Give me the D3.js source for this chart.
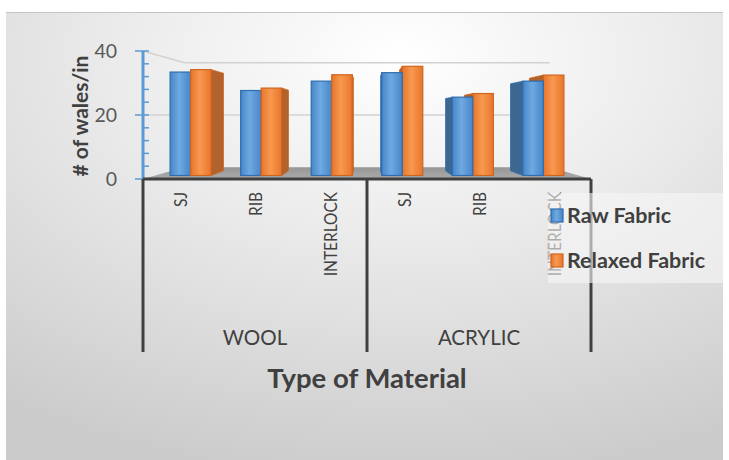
<!DOCTYPE html>
<html>
<head>
<meta charset="utf-8">
<script src="https://cdn.jsdelivr.net/npm/d3@7"></script>
<style>
  html, body { margin: 0; padding: 0; background: #ffffff; }
  svg { display: block; }
  text { font-family: Lato, "Open Sans", "Liberation Sans", sans-serif; }
</style>
</head>
<body>
<svg id="chart" width="729" height="460"></svg>
<script>
// Wales per inch by knit structure, grouped by fibre
const groups = ["WOOL", "ACRYLIC"];
const structures = ["SJ", "RIB", "INTERLOCK"];
const seriesNames = ["Raw Fabric", "Relaxed Fabric"];
const rawFabric = [34.2, 28.1, 31.2, 34.0, 25.9, 31.2];
const relaxedFabric = [35.0, 28.9, 33.3, 36.1, 27.1, 33.2];
const yTicks = [0, 20, 40];

const svg = d3.select("#chart");

// ---- background panel ----
const defs = svg.append("defs");
const bg = defs.append("radialGradient").attr("id", "bgGrad")
  .attr("cx", "0.55").attr("cy", "0.1").attr("r", "0.95");
bg.append("stop").attr("offset", "0").attr("stop-color", "#ffffff");
bg.append("stop").attr("offset", "0.4").attr("stop-color", "#ececec");
bg.append("stop").attr("offset", "1").attr("stop-color", "#cbcbcb");

svg.append("rect").attr("x", 6).attr("y", 12).attr("width", 717).attr("height", 448)
  .attr("fill", "url(#bgGrad)");
svg.append("line").attr("x1", 6).attr("x2", 723).attr("y1", 12.5).attr("y2", 12.5)
  .attr("stroke", "#c4c4c4").attr("stroke-width", 1);

// ---- scales ----
const cats = [];
groups.forEach(g => structures.forEach(s => cats.push(g + "|" + s)));

const x0 = d3.scaleBand().domain(cats).range([143, 591]).paddingInner(0).paddingOuter(0);
const x1 = d3.scaleBand().domain(seriesNames).range([0, x0.bandwidth()]).paddingInner(0).paddingOuter(0.72);
const y = d3.scaleLinear().domain([0, 40]).range([179, 51]);

// perspective: points recede toward a vanishing point as depth k grows
const vp = [367, 115];
const proj = (px, py, k) => [vp[0] + (px - vp[0]) * (1 - k), vp[1] + (py - vp[1]) * (1 - k)];
const wallK = 0.185, barFrontK = 0.055, barBackK = 0.13;
const poly = pts => pts.map(p => p.join(",")).join(" ");

// ---- floor ----
const xL = x0.range()[0], xR = x0.range()[1];
const floorPts = [proj(xL, y(0), 0), proj(xL, y(0), wallK), proj(xR, y(0), wallK), proj(xR, y(0), 0)];
const floorGrad = defs.append("linearGradient").attr("id", "floorGrad").attr("x1", 0).attr("y1", 0).attr("x2", 0).attr("y2", 1);
floorGrad.append("stop").attr("offset", 0).attr("stop-color", "#969696");
floorGrad.append("stop").attr("offset", 1).attr("stop-color", "#ababab");
svg.append("polygon").attr("points", poly(floorPts)).attr("fill", "url(#floorGrad)");

// ---- back-wall gridlines ----
yTicks.filter(t => t > 0).forEach(t => {
  const a = proj(xL, y(t), 0), b = proj(xL, y(t), wallK), c = proj(xR, y(t), wallK);
  svg.append("polyline").attr("points", poly([a, b, c]))
    .attr("fill", "none").attr("stroke", "#d2d2d2").attr("stroke-width", 1.5);
});

// ---- bars ----
const mkGrad = (id, edge, mid) => {
  const g = defs.append("linearGradient").attr("id", id).attr("x1", 0).attr("x2", 1).attr("y1", 0).attr("y2", 0);
  g.append("stop").attr("offset", 0).attr("stop-color", edge);
  g.append("stop").attr("offset", 0.45).attr("stop-color", mid);
  g.append("stop").attr("offset", 1).attr("stop-color", edge);
};
mkGrad("rawGrad", "#4786c6", "#6ea9e2");
mkGrad("relGrad", "#e8762c", "#f7994f");
const style = {
  "Raw Fabric": { front: "url(#rawGrad)", side: "#3b6791", stroke: "#2e6db0" },
  "Relaxed Fabric": { front: "url(#relGrad)", side: "#b2622c", stroke: "#cf6420" }
};

const bars = [];
cats.forEach((c, i) => {
  bars.push({ cat: c, s: "Raw Fabric", v: rawFabric[i] });
  bars.push({ cat: c, s: "Relaxed Fabric", v: relaxedFabric[i] });
});
bars.forEach(b => {
  b.xa = x0(b.cat) + x1(b.s);
  b.xb = b.xa + x1.bandwidth();
  b.dist = Math.abs((b.xa + b.xb) / 2 - vp[0]);
});
// draw bars farthest from the vanishing point first so nearer faces overlap them
bars.sort((a, b) => b.dist - a.dist);

bars.forEach(b => {
  const st = style[b.s];
  const top = y(b.v), bot = y(0);
  // the side facing the vanishing point is the visible one
  const sx = ((b.xa + b.xb) / 2 < vp[0]) ? b.xb : b.xa;
  const side = [proj(sx, top, barFrontK), proj(sx, top, barBackK), proj(sx, bot, barBackK), proj(sx, bot, barFrontK)];
  svg.append("polygon").attr("points", poly(side)).attr("fill", st.side)
    .attr("stroke", st.stroke).attr("stroke-width", 0.8);
  const f1 = proj(b.xa, top, barFrontK), f2 = proj(b.xb, bot, barFrontK);
  svg.append("rect").attr("x", f1[0]).attr("y", f1[1])
    .attr("width", f2[0] - f1[0]).attr("height", f2[1] - f1[1])
    .attr("fill", st.front).attr("stroke", st.stroke).attr("stroke-width", 1.2);
});

// ---- value axis ----
const axisG = svg.append("g");
axisG.append("line").attr("x1", xL).attr("x2", xL).attr("y1", y(40)).attr("y2", y(0))
  .attr("stroke", "#5b9bd5").attr("stroke-width", 3);
d3.range(0, 41, 4).forEach(t => {
  const major = yTicks.includes(t);
  axisG.append("line").attr("x1", major ? xL - 8 : xL).attr("x2", xL + 6)
    .attr("y1", y(t)).attr("y2", y(t)).attr("stroke", "#5b9bd5").attr("stroke-width", 1.5);
});
axisG.selectAll("text.tick").data(yTicks).join("text")
  .attr("x", 117).attr("y", d => y(d)).attr("dy", "0.36em")
  .attr("text-anchor", "end").attr("font-size", 19.5).attr("fill", "#595959")
  .text(d => d);

svg.append("text").attr("transform", "translate(88,116) rotate(-90)")
  .attr("text-anchor", "middle").attr("font-size", 21).attr("font-weight", "bold")
  .attr("fill", "#404040").text("# of wales/in");

// ---- category axis (two-level) ----
const dark = "#404040";
svg.append("line").attr("x1", xL).attr("x2", xR).attr("y1", y(0)).attr("y2", y(0))
  .attr("stroke", dark).attr("stroke-width", 3);
[xL, (xL + xR) / 2, xR].forEach(xx => {
  svg.append("line").attr("x1", xx).attr("x2", xx).attr("y1", y(0)).attr("y2", 352)
    .attr("stroke", dark).attr("stroke-width", 3);
});
// structure labels, set in a slightly condensed face
svg.selectAll("text.cat").data(cats).join("text")
  .attr("transform", d => `translate(${x0(d) + x0.bandwidth() / 2 + 7},192) rotate(-90) scale(0.86,1)`)
  .attr("text-anchor", "end").attr("font-size", 18).attr("fill", dark)
  .text(d => d.split("|")[1]);
svg.selectAll("text.grp").data(groups).join("text")
  .attr("x", (d, i) => xL + (xR - xL) / 4 * (2 * i + 1)).attr("y", 345)
  .attr("text-anchor", "middle").attr("font-size", 20.5).attr("fill", dark)
  .text(d => d);
svg.append("text").attr("x", 367).attr("y", 388).attr("text-anchor", "middle")
  .attr("font-size", 27.5).attr("font-weight", "bold").attr("fill", dark)
  .text("Type of Material");

// ---- legend ----
svg.append("rect").attr("x", 548).attr("y", 193).attr("width", 175).attr("height", 90)
  .attr("fill", "#f6f6f6").attr("fill-opacity", 0.6);
const legFill = { "Raw Fabric": "url(#rawGrad)", "Relaxed Fabric": "url(#relGrad)" };
seriesNames.forEach((s, i) => {
  const cy = 215 + i * 45;
  svg.append("rect").attr("x", 551).attr("y", cy - 6).attr("width", 12).attr("height", 13)
    .attr("fill", legFill[s]).attr("stroke", style[s].stroke).attr("stroke-width", 1.2);
  svg.append("text").attr("x", 567).attr("y", cy).attr("dy", "0.36em")
    .attr("font-size", 21.5).attr("font-weight", "bold").attr("fill", dark).text(s);
});
</script>
</body>
</html>
